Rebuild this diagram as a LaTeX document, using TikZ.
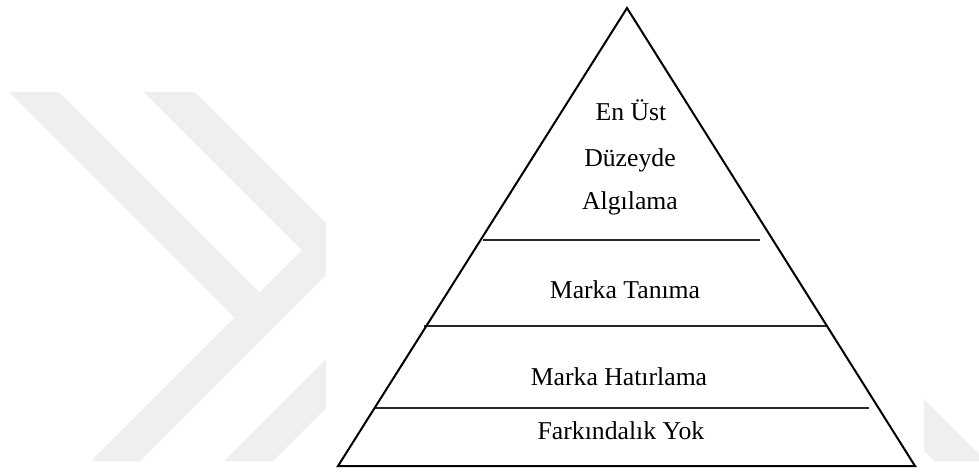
\documentclass[tikz,border=0pt]{standalone}
\usepackage{fontspec}
\setmainfont{Liberation Serif}
\definecolor{wmgray}{HTML}{EFEFEF}
\begin{document}
\begin{tikzpicture}
  [x=1pt,y=-1pt,
   watermark/.style={fill=wmgray,draw=none},
   edge/.style={draw=black,line width=2pt,line join=miter},
   divider/.style={draw=black!85,line width=1.3pt},
   tiertext/.style={font=\fontsize{25.7}{44.5}\selectfont,anchor=base,
                    inner sep=0,outer sep=0}]
  \useasboundingbox (0,0) rectangle (979,475);
  % background chevrons
  \begin{scope}
    \clip (0,0) rectangle (979,475);
    \fill[watermark] (9,92) -- (59,92) -- (259.5,292.5) -- (302,250)
      -- (326.5,274.5) -- (140,461) -- (91,461) -- (234.5,317.5) -- cycle;
    \fill[watermark] (144,92) -- (195,92) -- (418.5,315.5) -- (273,461)
      -- (224,461) -- (368.5,316.5) -- cycle;
    \fill[watermark] (850,325) -- (986,461) -- (934,461) -- (850,377) -- cycle;
  \end{scope}
  \fill[white] (326,0) rectangle (924,475);
  % pyramid
  \coordinate (apex) at (627,8);
  \coordinate (baseL) at (338,466);
  \coordinate (baseR) at (915,466);
  \coordinate (cut1L) at (483,240);
  \coordinate (cut1R) at (760,240);
  \coordinate (cut2L) at (424,326);
  \coordinate (cut2R) at (826,326);
  \coordinate (cut3L) at (375,408);
  \coordinate (cut3R) at (869,408);
  \draw[divider] (cut1L) -- (cut1R);
  \draw[divider] (cut2L) -- (cut2R);
  \draw[divider] (cut3L) -- (cut3R);
  \draw[edge] (apex) -- (baseR) -- (baseL) -- cycle;
  % tiers
  \node[tiertext] (top1) at (631,120) {En Üst};
  \node[tiertext] (top2) at (630,166) {Düzeyde};
  \node[tiertext] (top3) at (630,209) {Algılama};
  \node[tiertext] (tanima) at (625,298) {Marka Tanıma};
  \node[tiertext] (hatirlama) at (619,385) {Marka Hatırlama};
  \node[tiertext] (yok) at (621,439) {Farkındalık Yok};
\end{tikzpicture}
\end{document}
